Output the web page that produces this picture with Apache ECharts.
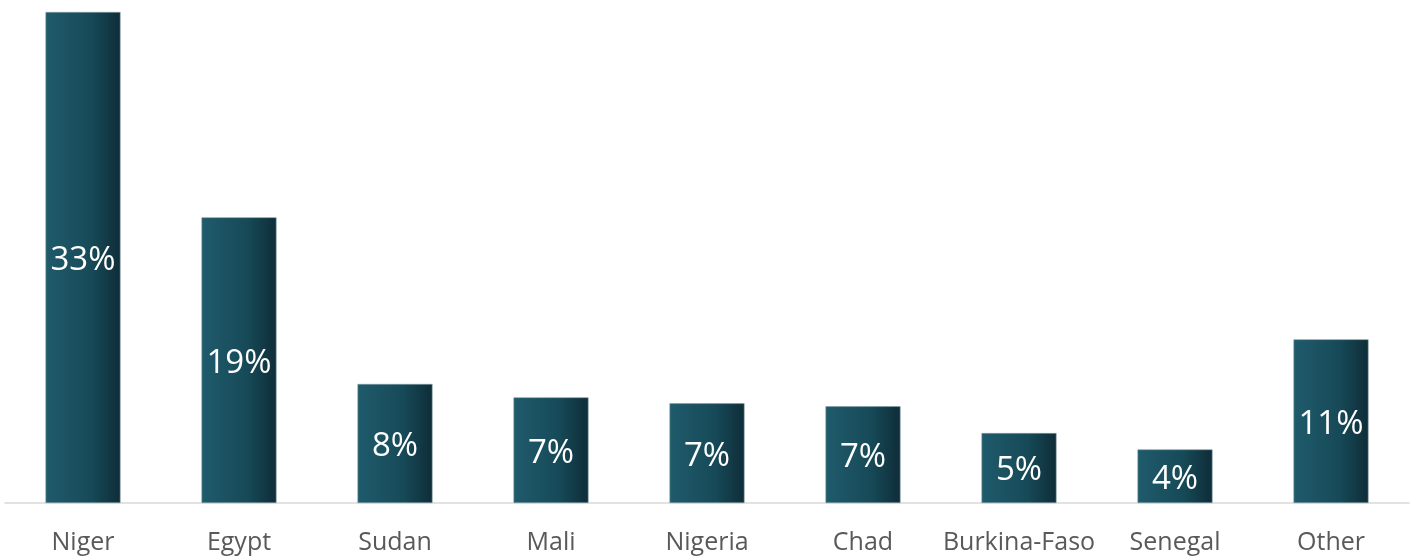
<!DOCTYPE html>
<html>
<head>
<meta charset="utf-8">
<script src="https://cdn.jsdelivr.net/npm/echarts@6/dist/echarts.min.js"></script>
<style>
  html, body { margin: 0; padding: 0; background: #fff; }
  #chart { width: 1411px; height: 556px; }
</style>
</head>
<body>
<div id="chart"></div>
<script>
var countries = ['Niger', 'Egypt', 'Sudan', 'Mali', 'Nigeria', 'Chad', 'Burkina-Faso', 'Senegal', 'Other'];
var shares = [33, 19.2, 8.0, 7.1, 6.7, 6.5, 4.7, 3.6, 11.0];

var barFill = new echarts.graphic.LinearGradient(0, 0, 1, 0, [
    { offset: 0, color: '#1f5b6c' },
    { offset: 0.6, color: '#174a58' },
    { offset: 1, color: '#0e2d38' }
]);

var chart = echarts.init(document.getElementById('chart'));
chart.setOption({
    backgroundColor: '#fff',
    animation: false,
    grid: {
        left: 5,
        right: 2,
        top: 12,
        bottom: 53
    },
    xAxis: {
        type: 'category',
        data: countries,
        axisLine: {
            lineStyle: { color: '#d9d9d9', width: 1.5 }
        },
        axisTick: { show: false },
        axisLabel: {
            interval: 0,
            color: '#595959',
            fontFamily: 'Open Sans',
            fontSize: 25,
            margin: 27
        }
    },
    yAxis: {
        type: 'value',
        min: 0,
        max: 33,
        show: false,
        splitLine: { show: false }
    },
    series: [{
        type: 'bar',
        data: shares,
        barWidth: 75,
        itemStyle: {
            color: barFill,
            borderColor: '#7f9ca4',
            borderWidth: 0.6
        },
        label: {
            show: true,
            position: 'inside',
            offset: [0, 3],
            color: '#fff',
            fontFamily: 'Open Sans',
            fontSize: 33,
            formatter: function (p) {
                return Math.round(p.value) + '%';
            }
        }
    }]
});
</script>
</body>
</html>
